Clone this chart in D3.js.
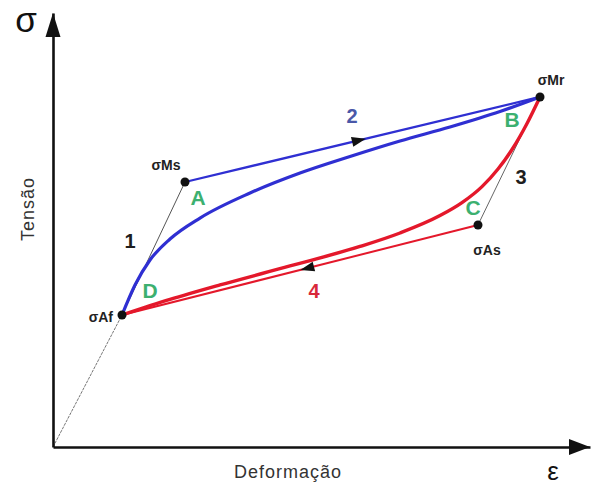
<!DOCTYPE html>
<html>
<head>
<meta charset="utf-8">
<script src="https://cdn.jsdelivr.net/npm/d3@7"></script>
<style>
  html, body { margin: 0; padding: 0; background: #fff; }
  svg { display: block; }
  text { font-family: "Liberation Sans", Arial, sans-serif; }
</style>
</head>
<body>
<svg id="chart" width="595" height="486"></svg>
<script>
// Transformation stresses (strain, stress) in schematic units
const stateNames  = ["σAf", "σMs", "σMr", "σAs"];
const stateStrain = [12.85, 24.58, 90.69, 79.14];
const stateStress = [30.41, 61.06, 80.65, 51.15];

// Loading path (austenite -> martensite), curve A..B
const loadStrain = [12.85, 15.27, 18.06, 21.79, 27.37, 36.69, 46.00, 55.31, 64.62, 73.93, 83.24, 90.69];
const loadStress = [30.41, 37.33, 43.09, 47.93, 52.76, 58.53, 63.13, 66.94, 70.51, 73.73, 77.30, 80.65];

// Unloading path (martensite -> austenite), curve B..C..D
const unloadStrain = [90.69, 88.27, 85.66, 82.87, 79.89, 76.16, 72.07, 64.62, 57.17, 44.13, 31.10, 21.79, 12.85];
const unloadStress = [80.65, 74.54, 68.89, 64.06, 60.00, 56.31, 53.32, 49.31, 46.20, 41.71, 37.33, 33.99, 30.41];

const phaseLetters = ["A", "B", "C", "D"];
const stepNumbers  = ["1", "2", "3", "4"];
const axisTitles   = { y: "Tensão", x: "Deformação", ySymbol: "σ", xSymbol: "ε" };

const svg = d3.select("#chart");
const x = d3.scaleLinear().domain([0, 100]).range([53, 590]);
const y = d3.scaleLinear().domain([0, 100]).range([447, 13]);

const pt = i => ({ x: stateStrain[i], y: stateStress[i] });
const Af = pt(0), Ms = pt(1), Mr = pt(2), As = pt(3);

const line = d3.line().x(d => x(d.x)).y(d => y(d.y));
const smooth = d3.line().x(d => x(d.x)).y(d => y(d.y)).curve(d3.curveMonotoneX);

const blue = "#2f2fd2", red = "#e4182b", green = "#3cb070";

// thin guide lines: elastic ranges
const guides = svg.append("g").attr("fill", "none");
guides.append("path").attr("d", line([{ x: 0, y: 0 }, Af]))
  .attr("stroke", "#777").attr("stroke-width", 1).attr("stroke-dasharray", "3,1");
guides.append("path").attr("d", line([Af, Ms])).attr("stroke", "#555").attr("stroke-width", 1);
guides.append("path").attr("d", line([Mr, As])).attr("stroke", "#666").attr("stroke-width", 1);

// axes
const xAxis = svg.append("g").attr("transform", `translate(0,${y(0)})`)
  .call(d3.axisBottom(x).ticks(0).tickSizeOuter(0));
const yAxis = svg.append("g").attr("transform", `translate(${x(0)},0)`)
  .call(d3.axisLeft(y).ticks(0).tickSizeOuter(0));
[xAxis, yAxis].forEach(g => g.select(".domain").attr("stroke", "#111").attr("stroke-width", 2.6));
// arrowheads
const x1 = x(100), y1 = y(100);
svg.append("path").attr("d", `M${x1},${y(0)} L${x1 - 21},${y(0) - 8} L${x1 - 21},${y(0) + 8} Z`).attr("fill", "#111");
svg.append("path").attr("d", `M${x(0)},${y1} L${x(0) - 7.5},${y1 + 24} L${x(0) + 7.5},${y1 + 24} Z`).attr("fill", "#111");

// transformation curves
const loadPts = loadStrain.map((v, i) => ({ x: v, y: loadStress[i] }));
const unloadPts = unloadStrain.map((v, i) => ({ x: v, y: unloadStress[i] }))
  .slice().sort((a, b) => a.x - b.x);

svg.append("path").attr("d", line([Ms, Mr])).attr("fill", "none")
  .attr("stroke", blue).attr("stroke-width", 2.3);
svg.append("path").attr("d", line([As, Af])).attr("fill", "none")
  .attr("stroke", red).attr("stroke-width", 2);
svg.append("path").attr("d", smooth(loadPts)).attr("fill", "none")
  .attr("stroke", blue).attr("stroke-width", 3.2);
svg.append("path").attr("d", smooth(unloadPts)).attr("fill", "none")
  .attr("stroke", red).attr("stroke-width", 3.4);

// direction arrows on the straight paths
function arrowOn(a, b, t) {
  const px = x(a.x) + (x(b.x) - x(a.x)) * t;
  const py = y(a.y) + (y(b.y) - y(a.y)) * t;
  const ang = Math.atan2(y(b.y) - y(a.y), x(b.x) - x(a.x)) * 180 / Math.PI;
  svg.append("path").attr("d", "M7,0 L-7,-5 L-7,5 Z").attr("fill", "#111")
    .attr("transform", `translate(${px},${py}) rotate(${ang})`);
}
arrowOn(Ms, Mr, 0.49);
arrowOn(As, Af, 0.48);

// state markers
svg.selectAll("circle.state").data(stateNames).join("circle").attr("class", "state")
  .attr("cx", (d, i) => x(stateStrain[i])).attr("cy", (d, i) => y(stateStress[i]))
  .attr("r", 4.5).attr("fill", "#111");

// state labels
const stateLabelPos = [
  { dx: -9, dy: 7, anchor: "end" },
  { dx: -19, dy: -12, anchor: "middle" },
  { dx: 11, dy: -12, anchor: "middle" },
  { dx: 9, dy: 30, anchor: "middle" }
];
svg.selectAll("text.state").data(stateNames).join("text").attr("class", "state")
  .attr("x", (d, i) => x(stateStrain[i]) + stateLabelPos[i].dx)
  .attr("y", (d, i) => y(stateStress[i]) + stateLabelPos[i].dy)
  .attr("text-anchor", (d, i) => stateLabelPos[i].anchor)
  .attr("font-size", 14).attr("font-weight", "bold").attr("fill", "#222")
  .text(d => d);

// phase letters
const letterPos = [[198, 205], [512, 127], [473, 215], [150, 298]];
svg.selectAll("text.phase").data(phaseLetters).join("text").attr("class", "phase")
  .attr("x", (d, i) => letterPos[i][0]).attr("y", (d, i) => letterPos[i][1])
  .attr("text-anchor", "middle").attr("font-size", 21).attr("font-weight", "bold")
  .attr("fill", green).text(d => d);

// step numbers
const stepPos = [[130, 248], [352, 123], [521, 184], [314, 298]];
const stepColor = ["#1e1e1e", "#4a58a8", "#1e1e1e", "#d8283a"];
svg.selectAll("text.step").data(stepNumbers).join("text").attr("class", "step")
  .attr("x", (d, i) => stepPos[i][0]).attr("y", (d, i) => stepPos[i][1])
  .attr("text-anchor", "middle").attr("font-size", 20).attr("font-weight", "bold")
  .attr("fill", (d, i) => stepColor[i]).text(d => d);

// axis titles and symbols
svg.append("text").attr("x", 26).attr("y", 32).attr("text-anchor", "middle")
  .attr("font-size", 35).attr("fill", "#111").text(axisTitles.ySymbol);
svg.append("text").attr("x", 553).attr("y", 480).attr("text-anchor", "middle")
  .attr("font-size", 26).attr("fill", "#111").text(axisTitles.xSymbol);
svg.append("text").attr("x", 288).attr("y", 478).attr("text-anchor", "middle")
  .attr("font-size", 18).attr("letter-spacing", 1).attr("fill", "#333").text(axisTitles.x);
svg.append("text").attr("transform", "translate(34,209) rotate(-90)").attr("text-anchor", "middle")
  .attr("font-size", 18).attr("letter-spacing", 1).attr("fill", "#333").text(axisTitles.y);
</script>
</body>
</html>
